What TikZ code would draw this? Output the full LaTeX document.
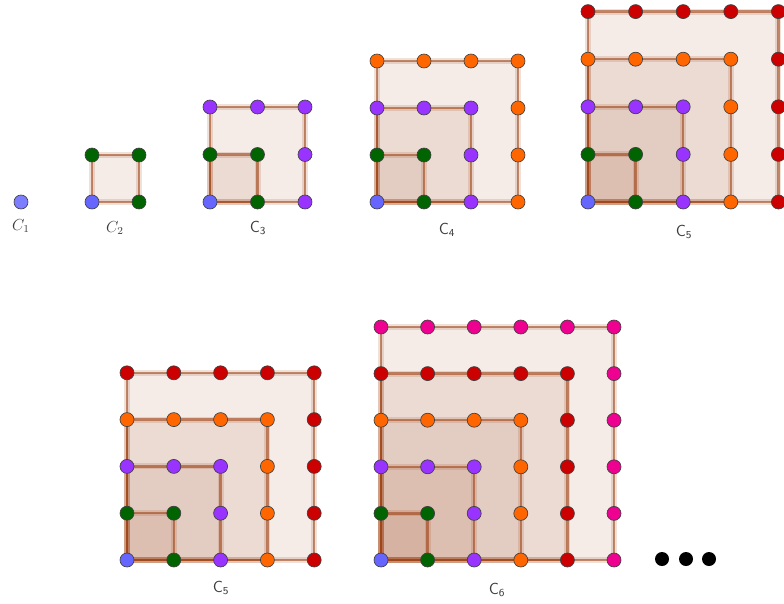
\documentclass[tikz,border=0pt]{standalone}
\usepackage{tikz}
\definecolor{lay0}{RGB}{102,102,255}
\definecolor{lay1}{RGB}{0,100,0}
\definecolor{lay2}{RGB}{153,51,255}
\definecolor{lay3}{RGB}{255,102,0}
\definecolor{lay4}{RGB}{204,0,0}
\definecolor{lay5}{RGB}{238,0,144}
\definecolor{edgec}{RGB}{160,70,25}
\definecolor{sqc}{RGB}{160,82,45}
\definecolor{labc}{RGB}{60,60,60}
\tikzset{
  dot/.style={circle, draw=black!75, line width=0.5pt, minimum size=10.5pt, inner sep=0pt},
  sq/.style={fill=sqc, fill opacity=0.11},
  edgehalo/.style={draw=edgec, line width=4.5pt, opacity=0.17},
  edge/.style={draw=edgec, line width=1.9pt, opacity=0.6},
  lab/.style={text=labc, font=\large\sffamily},
  bigdot/.style={circle, fill=black, minimum size=10.5pt, inner sep=0pt}
}
\newcommand\gnom[5]{%
  \foreach \s in {1,...,#3} {
    \fill[sq] (#1,#2) rectangle ++(\s*#4,-\s*#4);
  }
  \foreach \s in {1,...,#3} {
    \draw[edgehalo] (#1,#2) rectangle ++(\s*#4,-\s*#4);
    \draw[edge] (#1,#2) rectangle ++(\s*#4,-\s*#4);
  }
  \foreach \i in {0,...,#3} {
    \foreach \j in {0,...,#3} {
      \pgfmathtruncatemacro\L{max(\i,\j)}
      \node[dot, fill=lay\L] (#5-\i-\j) at (#1+\i*#4, #2-\j*#4) {};
    }
  }
}
\begin{document}
\begin{tikzpicture}[x=0.75pt,y=-0.75pt]
\useasboundingbox (0,0) rectangle (784,603);
\clip (0,0) rectangle (784,603);
% C1
\node[dot, fill=lay0!85!white] (c1-0-0) at (21,202) {};
\node[text=labc, font=\large] (l1) at (21,226) {$C_1$};
% C2
\gnom{92}{202}{1}{47}{c2}
\node[text=labc, font=\large] (l2) at (115,228) {$C_2$};
% C3
\gnom{210}{202}{2}{47.5}{c3}
\node[lab] (l3) at (258,228) {C\textsubscript{3}};
% C4
\gnom{377}{202}{3}{47}{c4}
\node[lab] (l4) at (447,230) {C\textsubscript{4}};
% C5 top
\gnom{588}{202}{4}{47.6}{c5a}
\node[lab] (l5a) at (684,232) {C\textsubscript{5}};
% C5 bottom
\gnom{127}{560}{4}{46.8}{c5b}
\node[lab] (l5b) at (221,588) {C\textsubscript{5}};
% C6
\gnom{381}{560}{5}{46.6}{c6}
\node[lab] (l6) at (497,590) {C\textsubscript{6}};
% dots
\node[bigdot] (e1) at (662,559) {};
\node[bigdot] (e2) at (686,559) {};
\node[bigdot] (e3) at (709,559) {};
\end{tikzpicture}
\end{document}
